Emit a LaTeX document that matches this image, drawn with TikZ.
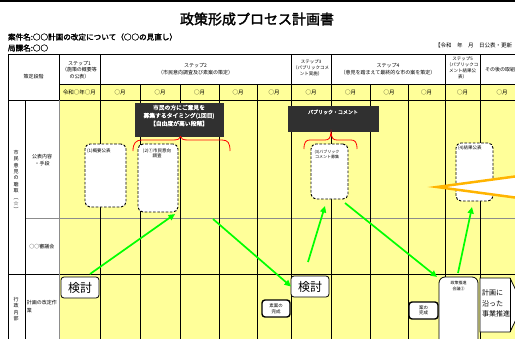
\documentclass[tikz,border=0pt]{standalone}
\usepackage{fontspec}
\setmainfont{Noto Sans CJK JP}[AutoFakeBold=2]
\usetikzlibrary{arrows.meta}
\definecolor{cellyellow}{HTML}{FFFF99}
\definecolor{darkfill}{HTML}{303030}
\definecolor{arrowgreen}{HTML}{00FF00}
\definecolor{calloutorange}{HTML}{FFB400}
\definecolor{bracered}{HTML}{FF0000}
\newcommand\myfs[2]{\fontsize{#1}{#2}\selectfont}
\begin{document}
\begin{tikzpicture}[x=1pt,y=-1pt,
  every node/.style={inner sep=0pt,outer sep=0pt},
  tline/.style={line width=0.8pt,black},
  gline/.style={line width=0.8pt,black!45},
  hdr/.style={align=center,font=\myfs{5}{6.8}},
  hdrs/.style={align=center,font=\myfs{4.5}{6}},
  mon/.style={font=\myfs{5.5}{6}},
  lbl/.style={align=center,font=\myfs{5}{6.4}},
  darkbox/.style={fill=darkfill,draw=darkfill},
  darktext/.style={align=center,text=white,font=\bfseries\myfs{5.8}{8}},
  dashbox/.style={draw=black,fill=white,line width=0.9pt,dash pattern=on 2.6pt off 1.6pt,rounded corners=5pt},
  tinytxt/.style={align=center,font=\myfs{4.5}{5.5}},
  kbox/.style={draw=black,fill=white,line width=0.8pt,rounded corners=3pt,font=\myfs{12}{12}},
  sbox/.style={draw=black,fill=white,line width=1.4pt,rounded corners=3pt,align=center,font=\myfs{4.5}{5.6}},
  brace/.style={draw=bracered,line width=0.8pt},
  garrow/.style={draw=arrowgreen,line width=1.7pt,-{Triangle[length=6.5pt,width=6pt]}},
]
\useasboundingbox (0,0) rectangle (515,338);
\fill[white] (0,0) rectangle (515,338);
\fill[black] (0,0) rectangle (515,1.8);
% titles
\node[font=\bfseries\myfs{14}{16}] (title) at (257,19) {政策形成プロセス計画書};
\node[anchor=west,font=\bfseries\myfs{7.6}{9}] (case) at (8,37) {案件名:○○計画の改定について（○○の見直し）};
\node[anchor=west,font=\bfseries\myfs{7.6}{9}] (dept) at (8,48) {局課名:○○};
\node[anchor=west,font=\myfs{5.5}{6}] (date) at (435,45) {【令和　年　月　日公表・更新};
% fills
\fill[cellyellow] (59,84) rectangle (524,345);
% horizontal lines
\draw[tline] (8,54) -- (524,54);
\draw[tline] (59,84) -- (524,84);
\draw[tline] (8,100) -- (524,100);
\draw[gline] (25,218) -- (524,218);
\draw[tline] (8,274) -- (524,274);
% vertical lines
\draw[tline] (8,54) -- (8,345);
\draw[tline] (25,100) -- (25,345);
\draw[tline] (59,54) -- (59,100);
\draw[gline] (59,100) -- (59,345);
\foreach \xx in {100,291,331,445,480} \draw[tline] (\xx,54) -- (\xx,345);
\foreach \xx in {140,180,219,257,370,408} \draw[tline] (\xx,84) -- (\xx,345);
% header texts
\node[hdr] (stage) at (33.5,77) {策定段階};
\node[hdr] (s1) at (79.5,70) {ステップ1\\（施策の概要等\\の公表）};
\node[hdr] (s2) at (195.5,69) {ステップ2\\（市民意向調査及び素案の策定）};
\node[hdrs] (s3) at (311,68) {ステップ3\\（パブリックコメ\\ント実施）};
\node[hdr] (s4) at (388,69) {ステップ4\\（意見を踏まえて最終的な市の案を策定）};
\node[hdrs] (s5) at (462.5,68) {ステップ5\\（パブリックコ\\メント結果公\\表）};
\node[hdr] (s6) at (500,70) {その後の取組};
\node[mon] (m0) at (79.5,92) {令和○年○月};
\foreach \xx/\nm in {120/m1,160/m2,199.5/m3,238/m4,274/m5,311/m6,350.5/m7,389/m8,426.5/m9,462.5/m10,502/m11}
  \node[mon] (\nm) at (\xx,92) {○月};
% row labels
\node[lbl] (vt1) at (16,181) {市\\民\\意\\見\\の\\聴\\取\\︵\\☆\\︶};
\node[lbl] (vt2) at (16,309) {行\\政\\内\\部};
\node[lbl] (r1) at (42,160) {公表内容\\・手段};
\node[lbl] (r2) at (42,247) {○○審議会};
\node[lbl,anchor=west,align=left,font=\myfs{5}{8}] (r3) at (27,307) {計画の改定作\\業};
% dark boxes
\node[darkbox,minimum width=88pt,minimum height=33pt] (dk1) at (179,119.5) {};
\node[darktext] (dk1t) at (179,115.5) {市民の方にご意見を\\募集するタイミング(1回目)\\【自由度が高い段階】};
\node[darkbox,minimum width=90pt,minimum height=25pt] (dk2) at (333,118.5) {};
\node[darktext,font=\bfseries\myfs{5}{6}] (dk2t) at (333,112) {パブリック・コメント};
% braces
\draw[brace] (133,151) .. controls (133,143) and (136,140) .. (142,140) -- (173,140)
  .. controls (178,140) and (180,139) .. (180.5,136.5)
  .. controls (181,139) and (183,140) .. (188,140) -- (222,140)
  .. controls (228,140) and (230,143) .. (230,151);
\draw[brace] (304,149) .. controls (304,142) and (306,140) .. (310,140) -- (325,140)
  .. controls (329,140) and (330.5,138) .. (331,132)
  .. controls (331.5,138) and (333,140) .. (337,140) -- (351,140)
  .. controls (355,140) and (357,142) .. (357,149);
% dashed boxes
\node[dashbox,minimum width=41pt,minimum height=63pt] (dA) at (105.5,175.5) {};
\node[tinytxt,anchor=north west] (dAt) at (87,148.5) {(1)概要公表};
\node[dashbox,minimum width=40pt,minimum height=68pt] (dB) at (158,178) {};
\node[tinytxt] (dBt) at (157,153.5) {(2)①市民意向\\調査};
\node[dashbox,minimum width=37pt,minimum height=55pt] (dC) at (329.5,171.5) {};
\node[tinytxt,font=\myfs{4}{5.2}] (dCt) at (327,154.5) {(3)パブリック\\コメント募集};
\node[dashbox,minimum width=37pt,minimum height=58pt] (dD) at (474.5,172) {};
\node[tinytxt,anchor=north west] (dDt) at (458,146) {(4)結果公表};
% orange callout pointer
\filldraw[fill=white,draw=calloutorange,line width=2.5pt] (437,187) -- (535,173.8) -- (535,200.2) -- cycle;
% bottom row boxes
\node[kbox,minimum width=38pt,minimum height=21pt] (k1) at (80,287.5) {検討};
\node[kbox,minimum width=38pt,minimum height=21pt] (k2) at (310,286.5) {検討};
\node[sbox,minimum width=28pt,minimum height=17pt] (soan) at (276,308.5) {素案の\\完成};
\node[sbox,minimum width=29pt,minimum height=17pt] (an) at (423.5,310.5) {案の\\完成};
\node[draw=black,fill=white,line width=0.8pt,rounded corners=6pt,minimum width=39pt,minimum height=74pt] (kaigi) at (458.5,314) {};
\node[tinytxt,font=\myfs{4}{5.5}] (kaigit) at (458.5,286) {政策推進\\会議③};
\filldraw[fill=white,draw=black,line width=0.8pt] (480,278) -- (510,278) -- (523,305) -- (510,332) -- (480,332) -- cycle;
\draw[line width=0.8pt] (510,278) -- (510,332);
\node[anchor=west,align=left,font=\myfs{7}{10.5}] (push) at (482,303.5) {計画に\\沿った\\事業推進};
% green arrows
\coordinate (g1s) at (90,274);
\coordinate (g1e) at (175,214);
\coordinate (g2s) at (213,219);
\coordinate (g3s) at (308,262);
\coordinate (g3e) at (325,206);
\coordinate (g4s) at (345,203);
\coordinate (g4e) at (437,277);
\coordinate (g5s) at (458,273);
\coordinate (g5e) at (472,207);
\draw[garrow] (g1s) -- (g1e);
\draw[garrow] (g2s) -- (k2.west);
\draw[garrow] (g3s) -- (g3e);
\draw[garrow] (g4s) -- (g4e);
\draw[garrow] (g5s) -- (g5e);
\end{tikzpicture}
\end{document}
